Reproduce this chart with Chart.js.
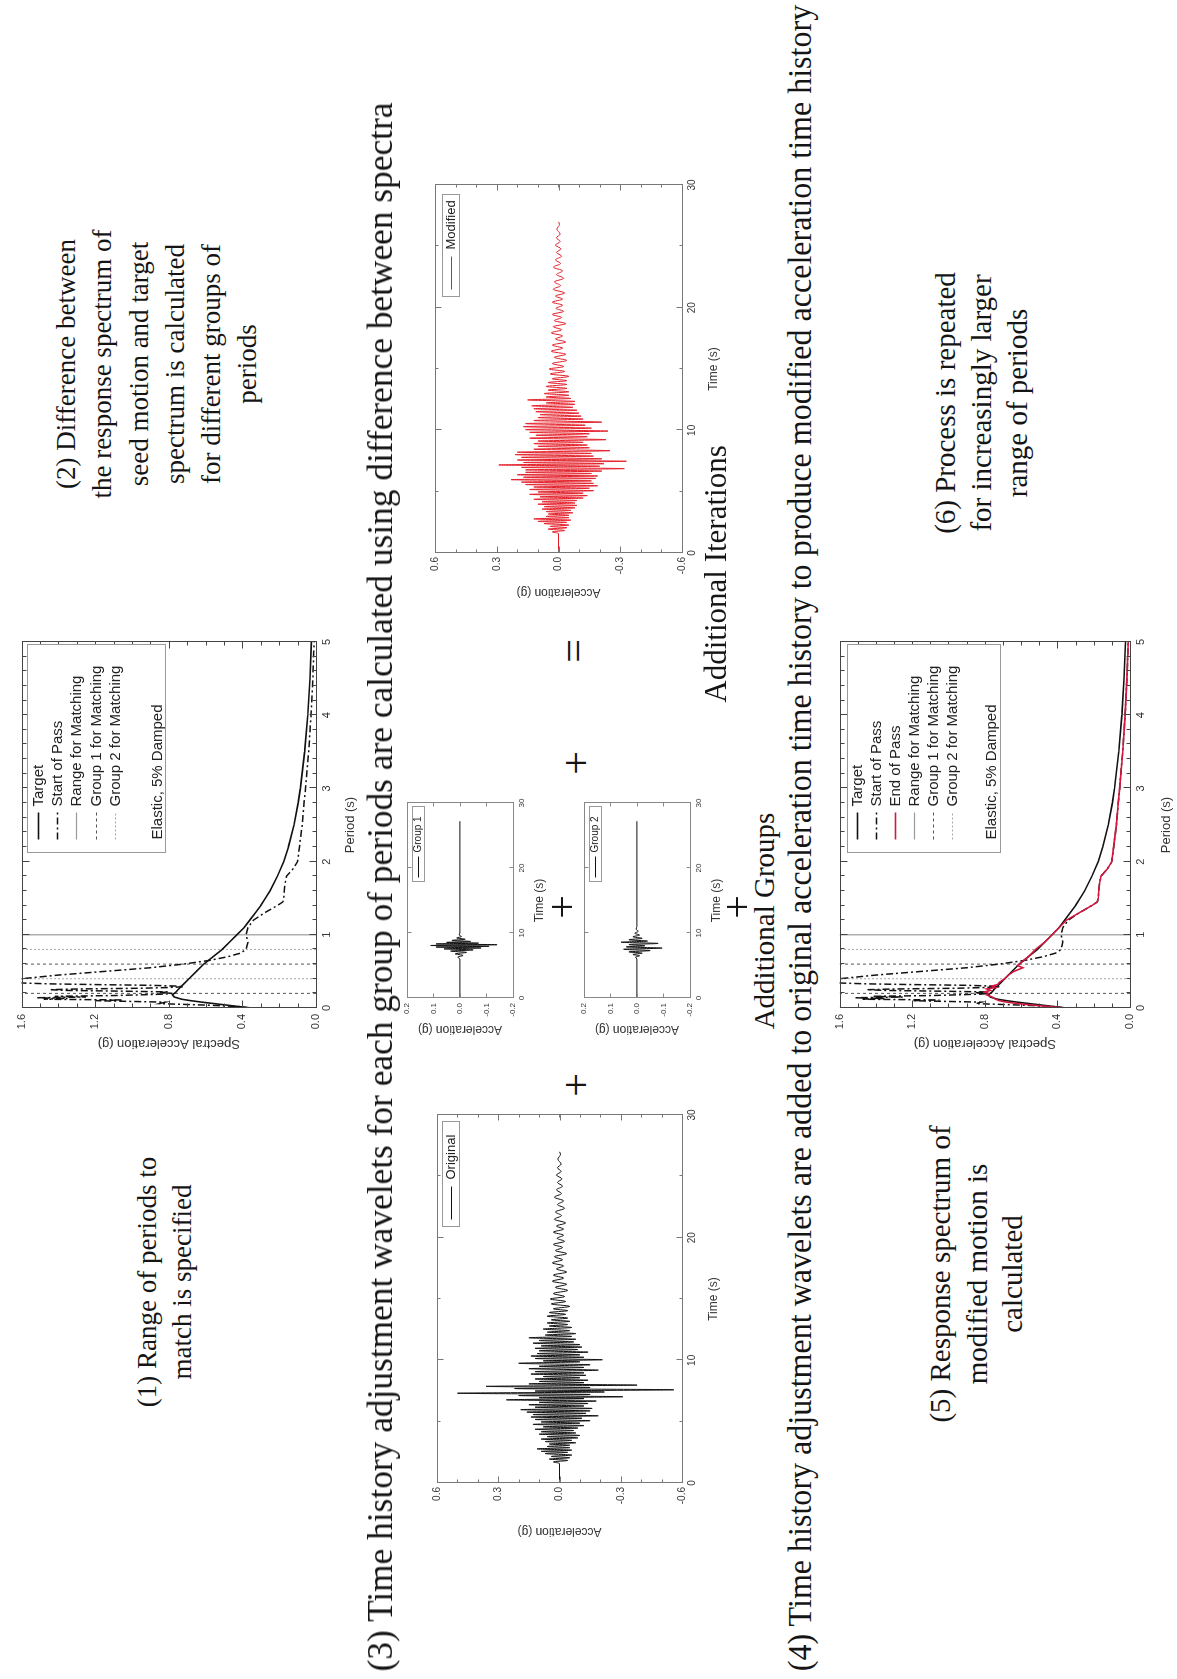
<!DOCTYPE html>
<html><head><meta charset="utf-8">
<script src="https://cdn.jsdelivr.net/npm/chart.js"></script>
<style>
html,body{margin:0;padding:0;width:1177px;height:1679px;overflow:hidden;background:#fff;}
#page{position:absolute;left:0;top:0;width:1679px;height:1177px;transform-origin:0 0;transform:translateY(1679px) rotate(-90deg);background:#fff;font-family:"Liberation Serif","Times New Roman",serif;color:#151515;}
#page canvas{position:absolute;}
.t{position:absolute;white-space:nowrap;line-height:1;}
</style></head><body><div id="page"></div>
<script>
// ---------------- DATA ----------------
// Response spectra (Period in s, Spectral acceleration in g)
const targetPeriod = [0,0.02,0.05,0.08,0.1,0.12,0.15,0.18,0.2,0.22, 0.25,0.3,0.35,0.4,0.5,0.6,0.7,0.8,0.9,1.0, 1.1,1.2,1.3,1.4,1.5,1.6,1.8,2.0,2.2,2.5, 2.8,3.0,3.5,4.0,4.5,5.0];
const targetSA     = [0.35,0.42,0.52,0.62,0.68,0.73,0.77,0.78,0.77,0.76, 0.75,0.73,0.71,0.69,0.65,0.61,0.56,0.51,0.47,0.43, 0.39,0.36,0.33,0.30,0.275,0.25,0.21,0.175,0.15,0.12, 0.097,0.085,0.062,0.045,0.033,0.025];

const startPeriod = [0,0.02,0.04,0.06,0.08,0.1,0.11,0.12,0.13,0.14, 0.15,0.16,0.17,0.18,0.19,0.2,0.21,0.22,0.23,0.24, 0.25,0.26,0.27,0.28,0.29,0.3,0.31,0.32,0.33,0.34, 0.35,0.37,0.4,0.45,0.5,0.55,0.6,0.65,0.7,0.75, 0.8,0.85,0.9,0.95,1.0,1.05,1.1,1.2,1.3,1.4, 1.45,1.5,1.6,1.7,1.8,1.9,2.0,2.2,2.5,2.8, 3.0,3.5,4.0,4.5,5.0];
const startSA     = [0.36,0.42,0.6,0.85,0.82,1.2,1.05,1.48,1.35,1.52, 1.25,1.42,1.1,0.95,0.82,0.78,0.85,0.8,1.05,1.35, 1.45,1.3,0.95,0.8,0.72,0.76,0.9,1.2,1.45,1.58, 1.65,1.7,1.6,1.4,1.15,0.9,0.72,0.58,0.48,0.41, 0.38,0.375,0.37,0.375,0.38,0.375,0.37,0.34,0.28,0.21, 0.18,0.175,0.172,0.168,0.16,0.125,0.1,0.09,0.075,0.065, 0.057,0.04,0.027,0.017,0.01];

const endPeriod = [0,0.02,0.05,0.08,0.1,0.12,0.15,0.18,0.2,0.22, 0.24,0.26,0.28,0.3,0.32,0.35,0.4,0.45,0.5,0.55, 0.58,0.6,0.7,0.8,0.9,1.0,1.1,1.2,1.3,1.4, 1.45,1.5,1.6,1.7,1.8,1.9,2.0,2.2,2.5,2.8, 3.0,3.5,4.0,4.5,5.0];
const endSA     = [0.35,0.45,0.58,0.68,0.72,0.74,0.76,0.79,0.78,0.8, 0.77,0.79,0.74,0.76,0.73,0.72,0.69,0.67,0.64,0.59, 0.62,0.61,0.56,0.52,0.47,0.43,0.39,0.35,0.28,0.21, 0.18,0.175,0.172,0.168,0.16,0.125,0.1,0.09,0.075,0.065, 0.057,0.04,0.027,0.017,0.01];

const rangePeriods  = [0, 1.0];
const group1Periods = [0.2, 0.6];
const group2Periods = [0.4, 0.8];

// Acceleration time histories (Time in s, Acceleration in g)
const origTime = [
 0,1.6,1.72,1.84,1.95,2.06,2.17,2.28,2.40,2.50,
 2.58,2.68,2.78,2.88,2.98,3.08,3.18,3.28,3.38,3.48,
 3.58,3.68,3.78,3.88,3.98,4.08,4.18,4.28,4.38,4.48,
 4.58,4.68,4.78,4.88,4.98,5.08,5.18,5.28,5.38,5.48,
 5.58,5.68,5.78,5.88,5.98,6.08,6.18,6.28,6.38,6.48,
 6.58,6.68,6.78,6.88,6.95,7.03,7.13,7.22,7.32,7.42,
 7.50,7.60,7.70,7.78,7.88,7.98,8.08,8.18,8.28,8.38,
 8.48,8.58,8.68,8.78,8.88,8.98,9.08,9.20,9.32,9.42,
 9.52,9.64,9.76,9.88,9.96,10.05,10.15,10.25,10.35,10.45,
 10.55,10.67,10.78,10.88,10.98,11.08,11.18,11.28,11.40,11.50,
 11.62,11.72,11.84,11.95,12.06,12.18,12.30,12.42,12.55,12.68,
 12.80,12.92,13.05,13.18,13.30,13.45,13.60,13.75,13.90,14.05,
 14.20,14.40,14.60,14.80,15.00,15.20,15.45,15.70,15.95,16.20,
 16.45,16.70,16.95,17.20,17.45,17.70,17.95,18.20,18.45,18.70,
 18.95,19.20,19.45,19.70,19.95,20.20,20.45,20.70,20.95,21.20,
 21.50,21.80,22.10,22.40,22.70,23.00,23.30,23.60,23.90,24.20,
 24.50,24.80,25.10,25.40,25.70,26.00,26.40,26.80,27.00];
const origAccel = [
 0,0,0.03,-0.04,0.05,-0.05,0.04,-0.06,0.07,-0.04,
 0.09,-0.06,0.11,-0.05,0.06,-0.05,0.05,-0.08,0.07,-0.06,
 0.09,-0.09,0.06,-0.10,0.10,-0.08,0.09,-0.07,0.12,-0.09,
 0.08,-0.12,0.13,-0.10,0.09,-0.15,0.12,-0.11,0.14,-0.19,
 0.13,-0.13,0.16,-0.15,0.19,-0.16,0.12,-0.12,0.15,-0.14,
 0.10,-0.18,0.26,-0.12,0.10,-0.31,0.20,-0.15,0.50,-0.22,
 0.12,-0.56,0.22,-0.15,0.36,-0.38,0.15,-0.12,0.10,-0.14,
 0.12,-0.10,0.08,-0.13,0.14,-0.12,0.12,-0.19,0.15,-0.12,
 0.10,-0.15,0.20,-0.10,0.08,-0.21,0.12,-0.12,0.14,-0.10,
 0.11,-0.14,0.10,-0.09,0.12,-0.11,0.09,-0.10,0.13,-0.07,
 0.10,-0.08,0.15,-0.06,0.07,-0.08,0.06,-0.05,0.08,-0.06,
 0.05,-0.04,0.06,-0.05,0.04,-0.04,0.06,-0.03,0.05,-0.04,
 0.03,-0.05,0.04,-0.03,0.045,-0.025,0.03,-0.04,0.02,-0.035,
 0.035,-0.02,0.03,-0.035,0.015,-0.02,0.035,-0.015,0.025,-0.035,
 0.02,-0.015,0.03,-0.025,0.012,-0.02,0.03,-0.02,0.015,-0.03,
 0.025,-0.01,0.02,-0.025,0.01,-0.02,0.025,-0.01,0.015,-0.015,
 0.01,-0.012,0.015,-0.008,0.01,-0.008,0.008,-0.005,0];

const modTime = [
 0,1.6,1.72,1.84,1.95,2.06,2.17,2.28,2.40,2.50,
 2.58,2.68,2.78,2.88,2.98,3.08,3.18,3.28,3.38,3.48,
 3.58,3.68,3.78,3.88,3.98,4.08,4.18,4.28,4.38,4.48,
 4.58,4.68,4.78,4.88,4.98,5.08,5.18,5.28,5.38,5.48,
 5.58,5.68,5.78,5.88,5.98,6.08,6.18,6.28,6.38,6.48,
 6.58,6.68,6.78,6.88,6.98,7.08,7.18,7.28,7.38,7.48,
 7.58,7.68,7.80,7.90,8.02,8.12,8.22,8.34,8.46,8.58,
 8.70,8.80,8.92,9.02,9.13,9.24,9.36,9.48,9.60,9.72,
 9.84,9.94,10.06,10.18,10.30,10.42,10.55,10.67,10.80,10.92,
 11.04,11.16,11.28,11.40,11.52,11.64,11.76,11.88,12.00,12.12,
 12.24,12.36,12.48,12.60,12.72,12.86,13.00,13.14,13.28,13.42,
 13.58,13.74,13.90,14.05,14.20,14.40,14.60,14.80,15.00,15.20,
 15.45,15.70,15.95,16.20,16.45,16.70,16.95,17.20,17.45,17.70,
 17.95,18.20,18.45,18.70,18.95,19.20,19.45,19.70,19.95,20.20,
 20.45,20.70,20.95,21.20,21.50,21.80,22.10,22.40,22.70,23.00,
 23.30,23.60,23.90,24.20,24.50,24.80,25.10,25.40,25.70,26.00,
 26.40,26.80,27.00];
const modAccel = [
 0,0,0.03,-0.03,0.05,-0.04,0.04,-0.05,0.07,-0.04,
 0.10,-0.06,0.12,-0.05,0.06,-0.05,0.05,-0.07,0.06,-0.06,
 0.08,-0.08,0.07,-0.09,0.10,-0.08,0.08,-0.09,0.12,-0.12,
 0.09,-0.14,0.14,-0.12,0.10,-0.17,0.14,-0.15,0.12,-0.19,
 0.16,-0.17,0.18,-0.16,0.23,-0.18,0.17,-0.19,0.20,-0.16,
 0.16,-0.21,0.16,-0.32,0.18,-0.20,0.29,-0.22,0.17,-0.33,
 0.20,-0.21,0.18,-0.17,0.21,-0.16,0.20,-0.25,0.12,-0.15,
 0.10,-0.14,0.12,-0.12,0.10,-0.23,0.14,-0.14,0.11,-0.15,
 0.14,-0.24,0.16,-0.16,0.17,-0.13,0.16,-0.21,0.12,-0.12,
 0.10,-0.11,0.09,-0.10,0.11,-0.09,0.12,-0.07,0.13,-0.08,
 0.06,-0.08,0.15,-0.06,0.06,-0.05,0.07,-0.05,0.05,-0.04,
 0.06,-0.04,0.05,-0.04,0.03,-0.05,0.04,-0.03,0.045,-0.025,
 0.03,-0.04,0.02,-0.035,0.035,-0.02,0.03,-0.035,0.015,-0.02,
 0.035,-0.015,0.025,-0.035,0.02,-0.015,0.03,-0.025,0.012,-0.02,
 0.03,-0.02,0.015,-0.03,0.025,-0.01,0.02,-0.025,0.01,-0.02,
 0.025,-0.01,0.015,-0.015,0.01,-0.012,0.015,-0.008,0.01,-0.008,
 0.008,-0.005,0];

const group1Time  = [0,6.0,6.3,6.55,6.8,7.02,7.22,7.4,7.56,7.7, 7.84,7.96,8.08,8.2,8.32,8.44,8.56,8.7,8.86,9.04, 9.24,9.45,9.7,10.0,27.2];
const group1Accel = [0,0,0.008,-0.012,0.018,-0.025,0.035,-0.05,0.06,-0.08, 0.09,-0.11,0.11,-0.14,0.09,-0.07,0.05,-0.04,0.03,-0.02, 0.012,-0.006,0.003,0,0];
const group2Time  = [0,6.0,6.3,6.5,6.7,6.9,7.1,7.3,7.5,7.68, 7.86,8.04,8.22,8.4,8.58,8.76,8.96,9.18,9.42,9.68, 9.96,10.26,10.6,11.0,27.2];
const group2Accel = [0,0,0.005,-0.01,0.015,-0.02,0.03,-0.05,0.05,-0.095, 0.04,-0.03,0.03,-0.08,0.06,-0.04,0.03,-0.02,0.015,-0.01, 0.008,-0.005,0.003,0,0];

// ---------------- RENDER ----------------
const SANS = '"Liberation Sans", Arial, sans-serif';
const page = document.getElementById('page');
const pts = (xs, ys) => xs.map((x, i) => ({x, y: ys[i]}));
const vlines = (xs, y0, y1) => xs.flatMap(x => [{x, y: y0}, {x, y: y1}, {x, y: null}]);
const f1 = v => (Math.abs(v) < 1e-9 ? 0 : v).toFixed(1);
const f0 = v => String(Math.round(v));

const framePlugin = {
  id: 'frame',
  afterDatasetsDraw(chart, args, o) {
    const {ctx, chartArea: a} = chart;
    const xs = chart.scales.x, ys = chart.scales.y;
    ctx.save();
    ctx.strokeStyle = o.color; ctx.lineWidth = 1; ctx.setLineDash([]);
    const seg = (x1, y1, x2, y2) => { ctx.beginPath(); ctx.moveTo(x1, y1); ctx.lineTo(x2, y2); ctx.stroke(); };
    const L = Math.round(a.left) + 0.5, R = Math.round(a.right) + 0.5, T = Math.round(a.top) + 0.5, B = Math.round(a.bottom) + 0.5;
    const xTick = (v, len) => { const p = Math.round(xs.getPixelForValue(v)) + 0.5; seg(p, B, p, B - len); seg(p, T, p, T + len); };
    const yTick = (v, len) => { const p = Math.round(ys.getPixelForValue(v)) + 0.5; seg(L, p, L + len, p); seg(R, p, R - len, p); };
    if (o.xMinor) for (let i = 0; ; i++) { const v = xs.min + i * o.xMinor; if (v > xs.max + 1e-9) break; xTick(v, o.minorLen); }
    if (o.yMinor) for (let i = 0; ; i++) { const v = ys.min + i * o.yMinor; if (v > ys.max + 1e-9) break; yTick(v, o.minorLen); }
    xs.ticks.forEach(t => xTick(t.value, o.majorLen));
    ys.ticks.forEach(t => yTick(t.value, o.majorLen));
    ctx.strokeRect(L, T, R - L, B - T);
    ctx.restore();
  }
};

const boxLegend = {
  id: 'boxLegend',
  afterDatasetsDraw(chart, args, o) {
    if (!o || !o.show) return;
    const {ctx, chartArea: a} = chart;
    const bl = Math.round(a.right - o.right - o.width) + 0.5, bt = Math.round(a.top + o.top) + 0.5;
    ctx.save();
    ctx.fillStyle = '#fff'; ctx.fillRect(bl, bt, o.width, o.height);
    ctx.strokeStyle = o.border; ctx.lineWidth = 1; ctx.setLineDash([]); ctx.strokeRect(bl, bt, o.width, o.height);
    ctx.font = o.size + 'px ' + SANS; ctx.textBaseline = 'middle'; ctx.textAlign = 'left';
    let k = 0;
    chart.data.datasets.forEach(ds => {
      if (!ds.label) return;
      const yy = Math.round(a.top + o.firstRow + k * o.rowH) + 0.5;
      ctx.strokeStyle = ds.borderColor; ctx.lineWidth = ds.borderWidth; ctx.setLineDash(ds.borderDash || []);
      ctx.beginPath(); ctx.moveTo(bl + o.sx0, yy); ctx.lineTo(bl + o.sx1, yy); ctx.stroke();
      ctx.setLineDash([]); ctx.fillStyle = '#222'; ctx.fillText(ds.label, bl + o.tx, yy);
      k++;
    });
    if (o.note) { ctx.fillStyle = '#222'; ctx.fillText(o.note, bl + o.sx0, a.top + o.noteY); }
    ctx.restore();
  }
};

function addChart(c) {
  const cv = document.createElement('canvas');
  const W = c.yw + c.pw + c.pr, H = c.pt + c.ph + c.xh;
  cv.width = W; cv.height = H;
  Object.assign(cv.style, {left: (c.L - c.yw) + 'px', top: (c.T - c.pt) + 'px', width: W + 'px', height: H + 'px'});
  page.appendChild(cv);
  const tf = {family: SANS, size: c.tickSize};
  const hf = {family: SANS, size: c.titleSize};
  return new Chart(cv, {
    type: 'line',
    data: {datasets: c.datasets},
    options: {
      responsive: false, animation: false, devicePixelRatio: 1,
      layout: {padding: {top: c.pt, right: c.pr, left: 0, bottom: 0}},
      elements: {point: {radius: 0}, line: {tension: 0}},
      plugins: {legend: {display: false}, tooltip: {enabled: false},
        frame: {color: c.frameColor, majorLen: c.majorLen, minorLen: c.minorLen, xMinor: c.xMinor, yMinor: c.yMinor},
        boxLegend: c.legend},
      scales: {
        x: {type: 'linear', min: c.xMin, max: c.xMax,
            grid: {display: false, drawTicks: false}, border: {display: false},
            ticks: {stepSize: c.xStep, padding: c.xPad, font: tf, color: '#333', maxRotation: 0, autoSkip: false, callback: c.xFmt},
            title: {display: true, text: c.xTitle, padding: 0, font: hf, color: '#333'},
            afterFit: s => { s.height = c.xh; }},
        y: {type: 'linear', min: c.yMin, max: c.yMax,
            grid: {display: false, drawTicks: false}, border: {display: false},
            ticks: {stepSize: c.yStep, padding: c.yPad, font: tf, color: '#333', autoSkip: false, callback: c.yFmt},
            title: {display: true, text: c.yTitle, padding: 0, font: hf, color: '#333'},
            afterFit: s => { s.width = c.yw; }}
      }
    },
    plugins: [framePlugin, boxLegend]
  });
}

const SA_MAX = 1.6;
function spectralSets(withEnd) {
  const sets = [
    {label: 'Target', data: pts(targetPeriod, targetSA), borderColor: '#111', borderWidth: 1.6, order: 1},
    {label: 'Start of Pass', data: pts(startPeriod, startSA), borderColor: '#111', borderWidth: 1.5, borderDash: [7, 3, 2, 3], order: 2}
  ];
  if (withEnd) sets.push({label: 'End of Pass', data: pts(endPeriod, endSA), borderColor: '#d3173f', borderWidth: 1.6, order: 0});
  sets.push(
    {label: 'Range for Matching', data: vlines(rangePeriods, 0, SA_MAX), borderColor: '#9a9a9a', borderWidth: 1.2, order: 3},
    {label: 'Group 1 for Matching', data: vlines(group1Periods, 0, SA_MAX), borderColor: '#555', borderWidth: 1, borderDash: [3, 3], order: 4},
    {label: 'Group 2 for Matching', data: vlines(group2Periods, 0, SA_MAX), borderColor: '#a8a8a8', borderWidth: 1, borderDash: [2, 2], order: 5}
  );
  return sets;
}
const spectralBase = {yw: 43, pw: 366, pr: 10, pt: 8, xMin: 0, xMax: 5, xStep: 1, yMin: 0, yMax: SA_MAX, yStep: 0.4,
  xFmt: f0, yFmt: f1, xTitle: 'Period (s)', yTitle: 'Spectral Acceleration (g)', tickSize: 11, titleSize: 13,
  xPad: 4, yPad: 6, frameColor: '#444', majorLen: 7, minorLen: 4, xMinor: 0.2, yMinor: 0.1};

// (1) spectrum at start
addChart(Object.assign({}, spectralBase, {L: 671, T: 17, ph: 299, xh: 42, datasets: spectralSets(false),
  legend: {show: true, right: 3, top: 5, width: 208, height: 138, firstRow: 16, rowH: 19.3, sx0: 13, sx1: 40, tx: 46, noteY: 136, note: 'Elastic, 5% Damped', size: 15, border: '#999'}}));
// (5) spectrum after pass
addChart(Object.assign({}, spectralBase, {L: 671, T: 835, ph: 295, xh: 44, datasets: spectralSets(true),
  legend: {show: true, right: 3, top: 7, width: 208, height: 153, firstRow: 17, rowH: 19, sx0: 13, sx1: 40, tx: 46, noteY: 152, note: 'Elastic, 5% Damped', size: 15, border: '#999'}}));

const thBase = {pw: 368, pr: 10, pt: 8, xMin: 0, xMax: 30, xStep: 10, yMin: -0.6, yMax: 0.6, yStep: 0.3,
  xFmt: f0, yFmt: f1, xTitle: 'Time (s)', yTitle: 'Acceleration (g)', tickSize: 10, titleSize: 12,
  xPad: 4, yPad: 4, frameColor: '#777', majorLen: 6, minorLen: 3, xMinor: 5, yMinor: 0.1, xh: 39};
// Original
addChart(Object.assign({}, thBase, {L: 196, T: 435, yw: 56, ph: 247,
  datasets: [{label: 'Original', data: pts(origTime, origAccel), borderColor: '#111', borderWidth: 1, cubicInterpolationMode: 'monotone'}],
  legend: {show: true, right: 7, top: 5, width: 105, height: 17, firstRow: 13.5, rowH: 18, sx0: 7, sx1: 40, tx: 47, size: 13, border: '#999'}}));
// Modified
addChart(Object.assign({}, thBase, {L: 1126, T: 433, yw: 47, ph: 249,
  datasets: [{label: 'Modified', data: pts(modTime, modAccel), borderColor: '#e3202a', borderWidth: 1, cubicInterpolationMode: 'monotone'}],
  legend: {show: true, right: 10, top: 7, width: 102, height: 17, firstRow: 15.5, rowH: 18, sx0: 7, sx1: 40, tx: 47, size: 13, border: '#999'}}));

const grBase = {pw: 195, ph: 108, pr: 10, pt: 8, yw: 39, xh: 34, xMin: 0, xMax: 30, xStep: 10, yMin: -0.2, yMax: 0.2, yStep: 0.1,
  xFmt: f0, yFmt: f1, xTitle: 'Time (s)', yTitle: 'Acceleration (g)', tickSize: 8, titleSize: 12,
  xPad: 4, yPad: 5, frameColor: '#888', majorLen: 4, minorLen: 2, xMinor: 0, yMinor: 0};
addChart(Object.assign({}, grBase, {L: 681, T: 405,
  datasets: [{label: 'Group 1', data: pts(group1Time, group1Accel), borderColor: '#111', borderWidth: 1, cubicInterpolationMode: 'monotone'}],
  legend: {show: true, right: 4, top: 5, width: 75, height: 12, firstRow: 11, rowH: 12, sx0: 4, sx1: 25, tx: 29, size: 10, border: '#999'}}));
addChart(Object.assign({}, grBase, {L: 681, T: 582,
  datasets: [{label: 'Group 2', data: pts(group2Time, group2Accel), borderColor: '#111', borderWidth: 1, cubicInterpolationMode: 'monotone'}],
  legend: {show: true, right: 4, top: 5, width: 75, height: 12, firstRow: 11, rowH: 12, sx0: 4, sx1: 25, tx: 29, size: 10, border: '#999'}}));

// ---------------- TEXT ----------------
const texts = [
  {s: '(1) Range of periods to', cx: 397, cy: 147, size: 27},
  {s: 'match is specified', cx: 397, cy: 182, size: 27},
  {s: '(2) Difference between', cx: 1315, cy: 66, size: 27},
  {s: 'the response spectrum of', cx: 1315, cy: 102, size: 27},
  {s: 'seed motion and target', cx: 1315, cy: 139, size: 27},
  {s: 'spectrum is calculated', cx: 1315, cy: 175, size: 27},
  {s: 'for different groups of', cx: 1315, cy: 211, size: 27},
  {s: 'periods', cx: 1315, cy: 247, size: 27},
  {s: '(3) Time history adjustment wavelets for each group of periods are calculated using difference between spectra', cx: 792, cy: 380, size: 36, w: 1569},
  {s: '(4) Time history adjustment wavelets are added to original acceleration time history to produce modified acceleration time history', cx: 841, cy: 800, size: 34, w: 1666},
  {s: '(5) Response spectrum of', cx: 405, cy: 940, size: 29},
  {s: 'modified motion is', cx: 405, cy: 977, size: 29},
  {s: 'calculated', cx: 405, cy: 1012, size: 29},
  {s: '(6) Process is repeated', cx: 1276, cy: 945, size: 29},
  {s: 'for increasingly larger', cx: 1276, cy: 981, size: 29},
  {s: 'range of periods', cx: 1276, cy: 1017, size: 29},
  {s: 'Additional Iterations', cx: 1105, cy: 715, size: 31},
  {s: 'Additional Groups', cx: 758, cy: 764, size: 29},
  {s: '+', cx: 594, cy: 576, size: 42},
  {s: '+', cx: 772, cy: 562, size: 42},
  {s: '+', cx: 772, cy: 737, size: 42},
  {s: '+', cx: 916, cy: 576, size: 42},
  {s: '=', cx: 1028, cy: 573, size: 42}
];
texts.forEach(t => {
  const d = document.createElement('div');
  d.className = 't';
  d.textContent = t.s;
  d.style.fontSize = t.size + 'px';
  d.style.left = t.cx + 'px';
  d.style.top = t.cy + 'px';
  page.appendChild(d);
  const k = t.w ? t.w / d.offsetWidth : 1;
  d.style.transform = 'translate(-50%,-50%) scaleX(' + k.toFixed(4) + ')';
});
</script></body></html>
